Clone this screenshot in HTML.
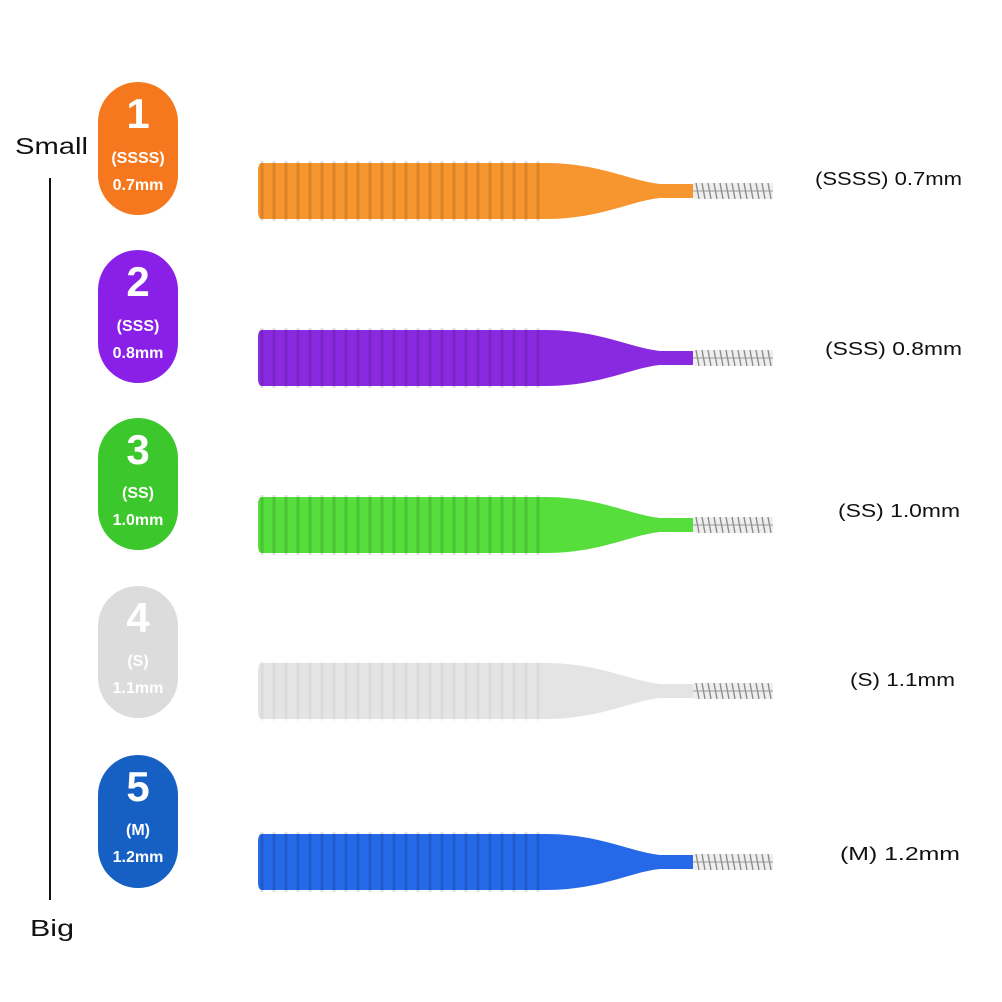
<!DOCTYPE html>
<html><head><meta charset="utf-8"><style>
html,body{margin:0;padding:0;background:#fff;}
svg{display:block;}
text{font-family:"Liberation Sans",Arial,sans-serif;}
</style></head><body>
<svg width="1002" height="1002" viewBox="0 0 1002 1002" xmlns="http://www.w3.org/2000/svg">
<defs>
<g id="wire">
  <rect x="693" y="-8" width="80" height="16" fill="#eee"/>
  <path d="M696 -8 L699 8 M702 -8 L705 8 M708 -8 L711 8 M714 -8 L717 8 M720 -8 L723 8 M726 -8 L729 8 M732 -8 L735 8 M738 -8 L741 8 M744 -8 L747 8 M750 -8 L753 8 M756 -8 L759 8 M762 -8 L765 8 M768 -8 L771 8" stroke="#888" stroke-width="1.3"/>
  <line x1="693" y1="0" x2="773" y2="0" stroke="#999" stroke-width="1"/>
</g>
<g id="ribs">
  <path d="M262 -30v60 M274 -30v60 M286 -30v60 M298 -30v60 M310 -30v60 M322 -30v60 M334 -30v60 M346 -30v60 M358 -30v60 M370 -30v60 M382 -30v60 M394 -30v60 M406 -30v60 M418 -30v60 M430 -30v60 M442 -30v60 M454 -30v60 M466 -30v60 M478 -30v60 M490 -30v60 M502 -30v60 M514 -30v60 M526 -30v60 M538 -30v60" stroke="#000" stroke-opacity="0.12" stroke-width="3"/>
</g>
</defs>

<text x="15" y="154" font-size="23" fill="#111" textLength="73" lengthAdjust="spacingAndGlyphs">Small</text>
<line x1="50" y1="178" x2="50" y2="900" stroke="#111" stroke-width="2"/>
<text x="30" y="936" font-size="23" fill="#111" textLength="44" lengthAdjust="spacingAndGlyphs">Big</text>

<g text-anchor="middle" font-weight="bold">
<rect x="98" y="82" width="80" height="133" rx="40" fill="#f5781e"/>
<text x="138" y="128" font-size="42" fill="#fff">1</text>
<text x="138" y="163" font-size="16" fill="#fff">(SSSS)</text>
<text x="138" y="190" font-size="16" fill="#fff">0.7mm</text>

<rect x="98" y="250" width="80" height="133" rx="40" fill="#8a20e8"/>
<text x="138" y="296" font-size="42" fill="#fff">2</text>
<text x="138" y="331" font-size="16" fill="#fff">(SSS)</text>
<text x="138" y="358" font-size="16" fill="#fff">0.8mm</text>

<rect x="98" y="418" width="80" height="132" rx="40" fill="#3cc72c"/>
<text x="138" y="464" font-size="42" fill="#fff">3</text>
<text x="138" y="498" font-size="16" fill="#fff">(SS)</text>
<text x="138" y="525" font-size="16" fill="#fff">1.0mm</text>

<rect x="98" y="586" width="80" height="132" rx="40" fill="#dcdcdc"/>
<text x="138" y="632" font-size="42" fill="#fff">4</text>
<text x="138" y="666" font-size="16" fill="#fff">(S)</text>
<text x="138" y="693" font-size="16" fill="#fff">1.1mm</text>

<rect x="98" y="755" width="80" height="133" rx="40" fill="#1660c4"/>
<text x="138" y="801" font-size="42" fill="#fff">5</text>
<text x="138" y="835" font-size="16" fill="#fff">(M)</text>
<text x="138" y="862" font-size="16" fill="#fff">1.2mm</text>
</g>

<g transform="translate(0,191)">
  <use href="#wire"/>
  <path d="M262 -28 H545 C600 -28 630 -10 660 -7 H693 V7 H660 C630 10 600 28 545 28 H262 Q258 28 258 20 V-20 Q258 -28 262 -28Z" fill="#f7962e"/>
  <use href="#ribs"/>
</g>
<g transform="translate(0,358)">
  <use href="#wire"/>
  <path d="M262 -28 H545 C600 -28 630 -10 660 -7 H693 V7 H660 C630 10 600 28 545 28 H262 Q258 28 258 20 V-20 Q258 -28 262 -28Z" fill="#8a2ae0"/>
  <use href="#ribs"/>
</g>
<g transform="translate(0,525)">
  <use href="#wire"/>
  <path d="M262 -28 H545 C600 -28 630 -10 660 -7 H693 V7 H660 C630 10 600 28 545 28 H262 Q258 28 258 20 V-20 Q258 -28 262 -28Z" fill="#55de3c"/>
  <use href="#ribs"/>
</g>
<g transform="translate(0,691)">
  <use href="#wire"/>
  <path d="M262 -28 H545 C600 -28 630 -10 660 -7 H693 V7 H660 C630 10 600 28 545 28 H262 Q258 28 258 20 V-20 Q258 -28 262 -28Z" fill="#e4e4e4"/>
  <g opacity="0.3"><use href="#ribs"/></g>
</g>
<g transform="translate(0,862)">
  <use href="#wire"/>
  <path d="M262 -28 H545 C600 -28 630 -10 660 -7 H693 V7 H660 C630 10 600 28 545 28 H262 Q258 28 258 20 V-20 Q258 -28 262 -28Z" fill="#2568e8"/>
  <use href="#ribs"/>
</g>

<g font-size="18" fill="#111" lengthAdjust="spacingAndGlyphs">
<text x="815" y="185" textLength="147" lengthAdjust="spacingAndGlyphs">(SSSS) 0.7mm</text>
<text x="825" y="355" textLength="137" lengthAdjust="spacingAndGlyphs">(SSS) 0.8mm</text>
<text x="838" y="517" textLength="122" lengthAdjust="spacingAndGlyphs">(SS) 1.0mm</text>
<text x="850" y="686" textLength="105" lengthAdjust="spacingAndGlyphs">(S) 1.1mm</text>
<text x="840" y="860" textLength="120" lengthAdjust="spacingAndGlyphs">(M) 1.2mm</text>
</g>
</svg>
</body></html>
